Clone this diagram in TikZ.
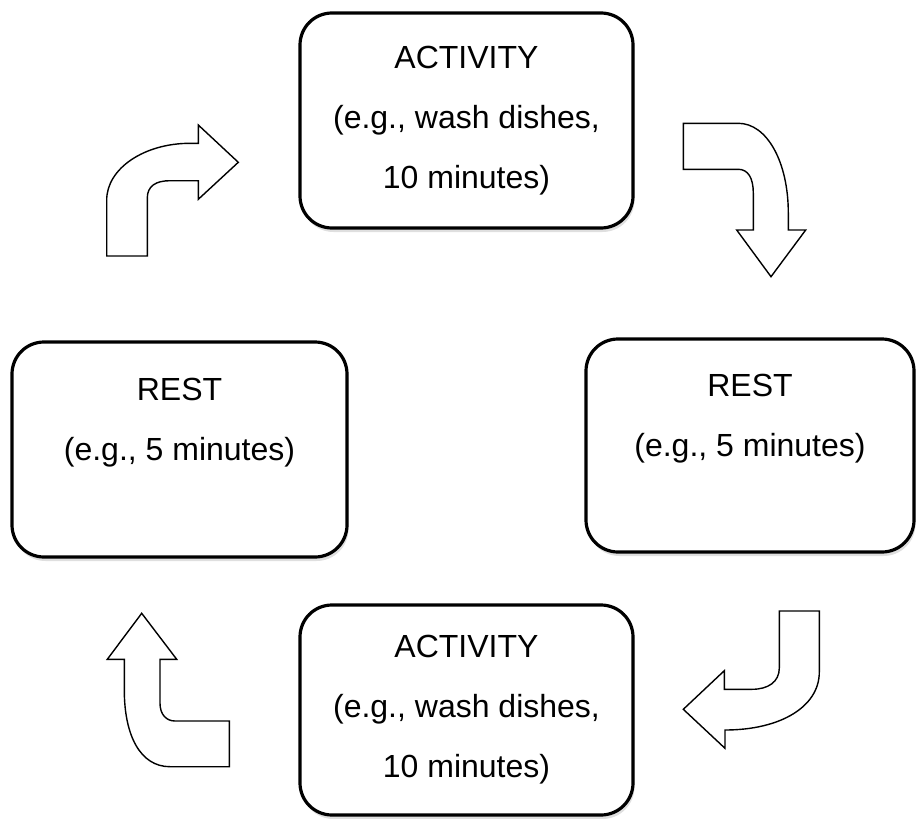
\documentclass[tikz,border=0pt]{standalone}
\usepackage{fontspec}
\setmainfont{Liberation Sans}
\usetikzlibrary{shadows}

\begin{document}
\begin{tikzpicture}[x=1pt, y=-1pt,
  phase/.style={draw=black, line width=3.2pt, rounded corners=32pt, fill=white,
                align=center, font=\fontsize{32}{60}\selectfont, inner sep=0pt,
                drop shadow={shadow xshift=1.5pt, shadow yshift=-4pt, opacity=0.25}},
  turn/.style={draw=black, line width=1.4pt, fill=white, line join=miter}
]
\useasboundingbox (0,0) rectangle (916,819);
% the four phases
\node[phase, minimum width=333pt, minimum height=215pt] (act1) at (466.5,120.5)
     {ACTIVITY\\(e.g., wash dishes,\\10 minutes)};
\node[phase, minimum width=328pt, minimum height=213pt] (rest1) at (750,445.5)
     {REST\\(e.g., 5 minutes)\\\mbox{}};
\node[phase, minimum width=333pt, minimum height=210pt] (act2) at (466.5,710)
     {ACTIVITY\\(e.g., wash dishes,\\10 minutes)};
\node[phase, minimum width=335pt, minimum height=215pt] (rest2) at (179.5,449.5)
     {REST\\(e.g., 5 minutes)\\\mbox{}};
% bent block arrows between the phases
\draw[turn] (683.3,123.3) -- (738.3,123.3)
  .. controls (767,123.3) and (788.3,162) .. (788.3,213) -- (788.3,230)
  -- (805.7,230) -- (771,276.7) -- (736.7,230) -- (753.3,230) -- (753.3,193)
  .. controls (753.3,178) and (748,169.3) .. (738.3,169.3) -- (683.3,169.3) -- cycle;
\draw[turn] (779.3,611) -- (819.3,611) -- (819.3,672)
  .. controls (819.3,707) and (780,730) .. (725,730) -- (725,748.3)
  -- (683.3,709.3) -- (724.3,670.7) -- (724.3,689.3) -- (752,689.3)
  .. controls (768,689.3) and (779.3,682) .. (779.3,668) -- cycle;
\draw[turn] (229.3,766.7) -- (170,766.7)
  .. controls (140,766.7) and (124.3,735) .. (124.3,690) -- (124.3,659.3)
  -- (107.3,659.3) -- (141.7,613.3) -- (176.7,659.3) -- (160,659.3) -- (160,703.3)
  .. controls (160,714) and (166,721) .. (175,721) -- (229.3,721) -- cycle;
\draw[turn] (106.7,256) -- (147.3,256) -- (147.3,198)
  .. controls (147.3,186) and (156,180.7) .. (170,180.7) -- (198.3,180.7)
  -- (198.3,199.3) -- (238.3,162.3) -- (198.3,125) -- (198.3,143.3) -- (190,143.3)
  .. controls (144.2,143.3) and (106.7,168.5) .. (106.7,200) -- cycle;
\end{tikzpicture}
\end{document}
